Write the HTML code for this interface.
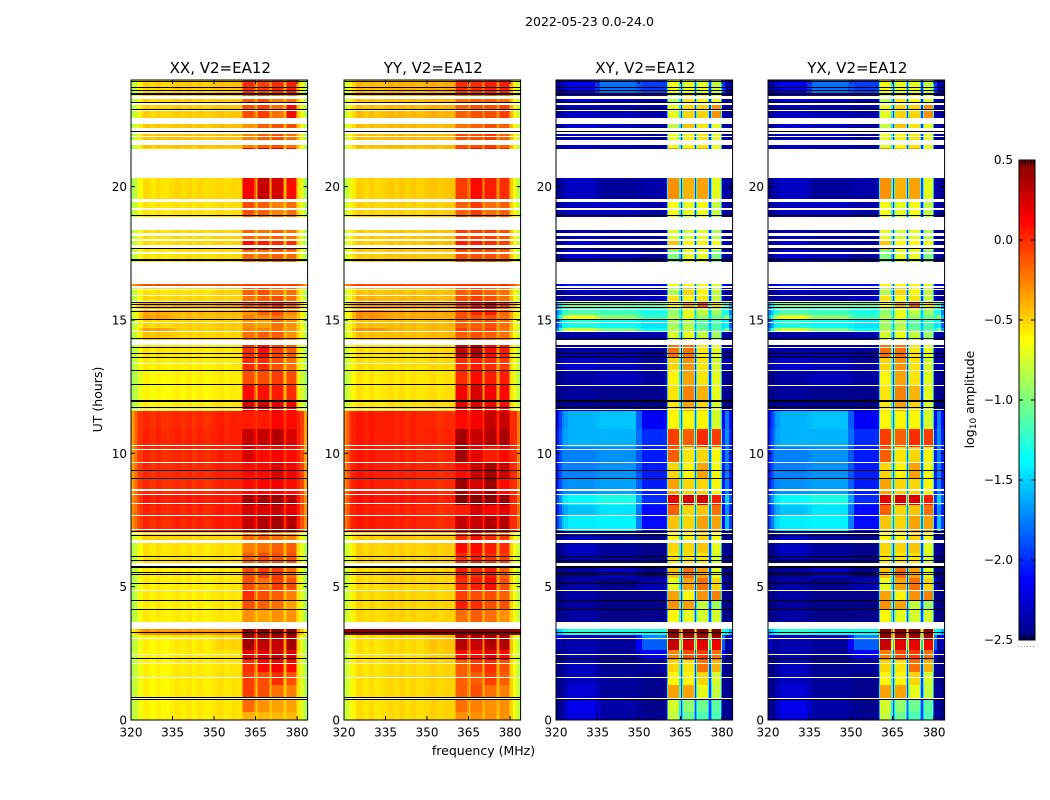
<!DOCTYPE html>
<html>
<head>
<meta charset="utf-8">
<title>2022-05-23 amplitude waterfall</title>
<style>
html,body{margin:0;padding:0;background:#fff;}
svg{display:block;}
text{font-family:"DejaVu Sans","Liberation Sans",sans-serif;fill:#000;}
</style>
</head>
<body>
<svg id="chart" xmlns="http://www.w3.org/2000/svg" width="1050" height="800" viewBox="0 0 1050 800">
<rect x="0" y="0" width="1050" height="800" fill="#fff"/>
<text x="589.5" y="26" font-size="12.5" text-anchor="middle">2022-05-23 0.0-24.0</text>
<text x="483.5" y="755" font-size="12.5" text-anchor="middle">frequency (MHz)</text>
<text x="102" y="399.5" font-size="12.5" text-anchor="middle" transform="rotate(-90 102 399.5)">UT (hours)</text>
<text x="974" y="399.5" font-size="12.5" text-anchor="middle" transform="rotate(-90 974 399.5)">log<tspan font-size="9" dy="2">10</tspan><tspan dy="-2"> amplitude</tspan></text>
<g id="panels"></g>
<g id="colorbar"></g>
</svg>
<script>
/* ---- axes ---- */
const panelTitles = ["XX, V2=EA12", "YY, V2=EA12", "XY, V2=EA12", "YX, V2=EA12"];
const freqTicks = [320, 335, 350, 365, 380];
const utTicks = [0, 5, 10, 15, 20];
const colorbarTicks = [0.5, 0.0, -0.5, -1.0, -1.5, -2.0, -2.5];

/* ---- frequency channels (MHz); each shows the mean of two per-row values ---- */
const channelEdgesMHz = [320,321,322,323,324.5,327,329,331,334,336,338,340,342,344,346,349,351,353.5,356,358.5,360,360.4,364.6,365,365.6,366,369.7,370.1,370.7,371.1,374.9,375.3,375.9,376.3,379.6,380,381,382.5,383.8];
const channelA = [0,0,1,1,2,2,2,2,2,3,3,3,3,3,3,3,4,4,4,4,4,6,6,5,5,7,7,5,5,8,8,5,5,9,9,4,1,0];
const channelB = [0,1,1,2,2,2,2,2,3,3,3,3,3,3,3,4,4,4,4,4,6,6,5,5,7,7,5,5,8,8,5,5,9,9,4,4,1,0];
const parallelRipple = [0,0,0,0,.02,-.02,.02,-.015,0,.015,-.015,.02,-.02,.015,-.015,0,.015,-.015,.01,0,0,0,0,0,0,0,0,0,0,0,0,0,0,0,0,0,0,0];

/* ---- time rows (UT hours, start of each row) ---- */
const rowStartUT = [0,.3,.75,1.31,1.8,2.25,2.63,3.0,3.19,
3.68,4.13,4.5,4.88,5.33,5.7,6.26,6.68,
7.05,7.69,8.06,8.44,9.08,9.68,10.24,10.91,
11.59,11.93,12.56,13.09,13.58,
14.06,14.55,14.7,15.0,15.19,15.45,15.68,15.9,16.2,
17.16,17.63,18.0,
18.9,19.54,
21.45,22.0,22.58,23.06,23.44];

/* ---- log10 amplitude per row: edge, shoulder, low1, low2, low3, gap, sub1, sub2, sub3, sub4 ---- */
const seriesXX = [
[-.85,-.72,-.6,-.57,-.55,-.5,-.4,-.42,-.42,-.42],
[-.85,-.72,-.6,-.57,-.55,-.48,-.18,-.3,-.35,-.35],
[-.85,-.72,-.6,-.57,-.55,-.45,-.05,-.1,-.2,-.25],
[-.85,-.72,-.6,-.57,-.55,-.45,-.05,-.1,0,-.1],
[-.85,-.72,-.6,-.57,-.55,-.42,0,.1,.15,.1],
[-.85,-.72,-.6,-.57,-.55,-.4,.2,.2,.3,.25],
[-.85,-.72,-.6,-.57,-.5,-.35,.4,.32,.3,.4],
[-.85,-.72,-.6,-.57,-.52,-.35,.46,.4,.4,.42],
[-.6,-.45,-.3,-.3,-.3,-.2,.5,.5,.5,.5],
[-.88,-.72,-.58,-.58,-.56,-.48,-.3,-.35,-.3,-.3],
[-.88,-.72,-.58,-.58,-.56,-.45,-.1,-.15,-.2,-.35],
[-.88,-.72,-.58,-.58,-.56,-.42,0,-.1,-.15,-.25],
[-.88,-.72,-.58,-.58,-.56,-.42,-.1,-.2,-.05,-.1],
[-.88,-.72,-.58,-.58,-.56,-.42,-.1,-.05,-.05,-.2],
[-.85,-.7,-.55,-.55,-.54,-.42,-.15,-.1,-.1,-.1],
[-.85,-.7,-.55,-.55,-.54,-.4,-.25,-.2,-.15,-.15],
[-.8,-.68,-.5,-.5,-.5,-.4,-.2,-.15,-.2,-.25],
[-.3,-.1,0,.02,.05,0,.3,.35,.4,.35],
[-.3,-.1,.02,.02,.05,0,.25,.25,.3,.2],
[-.3,-.1,.05,.05,.06,.02,.4,.4,.42,.35],
[-.35,-.08,0,0,.03,-.02,.1,.12,.15,.1],
[-.35,-.08,0,0,.03,-.02,.1,.1,.25,.15],
[-.35,-.08,0,0,.03,-.02,.25,.1,.15,.1],
[-.35,-.05,.02,.02,.04,0,.3,.3,.35,.25],
[-.35,-.05,0,0,.03,-.02,.05,.05,.12,.1],
[-.88,-.75,-.6,-.58,-.55,-.4,.25,.25,.2,.15],
[-.88,-.75,-.62,-.6,-.58,-.42,.1,.08,.05,0],
[-.9,-.78,-.62,-.6,-.58,-.45,-.1,-.1,-.05,-.1],
[-.85,-.72,-.58,-.58,-.57,-.45,0,0,-.1,-.2],
[-.85,-.72,-.56,-.57,-.56,-.42,0,.1,-.05,-.15],
[-.85,-.7,-.45,-.5,-.5,-.42,-.2,-.15,-.15,-.3],
[-.8,-.62,-.35,-.48,-.46,-.4,-.25,-.25,-.2,-.3],
[-.85,-.7,-.52,-.5,-.48,-.42,-.3,-.35,-.2,-.3],
[-.8,-.6,-.35,-.45,-.45,-.38,-.25,-.3,-.2,-.35],
[-.78,-.6,-.38,-.42,-.42,-.36,-.3,-.15,-.1,-.25],
[-.65,-.5,-.38,-.34,-.3,-.25,-.1,-.05,.05,-.1],
[-.85,-.7,-.52,-.52,-.5,-.42,-.2,-.15,-.1,-.2],
[-.85,-.7,-.55,-.55,-.5,-.42,-.15,-.1,-.2,-.2],
[-.35,-.2,-.1,-.1,-.1,-.1,-.05,-.05,-.05,-.05],
[-.85,-.7,-.56,-.54,-.52,-.45,-.2,-.2,-.15,-.2],
[-.85,-.7,-.54,-.52,-.5,-.42,.08,.05,0,0],
[-.85,-.7,-.54,-.52,-.5,-.45,-.15,-.2,-.15,-.2],
[-.85,-.7,-.56,-.55,-.53,-.45,-.1,-.15,-.25,-.2],
[-.9,-.72,-.54,-.52,-.52,-.42,.15,.3,.25,.1],
[-.85,-.68,-.46,-.45,-.44,-.4,-.25,-.15,-.1,-.2],
[-.85,-.68,-.48,-.46,-.44,-.4,-.3,-.15,-.1,-.1],
[-.85,-.68,-.5,-.48,-.46,-.4,-.1,-.05,-.2,.1],
[-.85,-.68,-.5,-.48,-.46,-.4,-.15,-.1,-.25,-.2],
[-.85,-.68,-.5,-.48,-.44,-.38,0,-.05,0,.05]
];
const seriesYY = [
[-.82,-.66,-.54,-.52,-.5,-.45,-.3,-.3,-.3,-.3],
[-.82,-.66,-.54,-.52,-.5,-.42,-.2,-.25,-.3,-.3],
[-.82,-.66,-.54,-.52,-.5,-.42,-.15,-.1,-.2,-.25],
[-.82,-.66,-.54,-.52,-.5,-.42,-.15,-.15,-.05,-.15],
[-.82,-.66,-.54,-.52,-.5,-.4,-.15,-.05,0,-.1],
[-.82,-.66,-.54,-.52,-.48,-.35,.1,.1,.2,.1],
[-.82,-.66,-.54,-.52,-.46,-.3,.35,.3,.35,.35],
[-.82,-.66,-.54,-.52,-.46,-.3,.4,.4,.42,.4],
[.42,.48,.5,.5,.5,.5,.5,.5,.5,.5],
[-.82,-.66,-.52,-.5,-.5,-.42,-.2,-.15,-.2,-.3],
[-.82,-.66,-.52,-.5,-.5,-.4,.05,0,-.1,-.1],
[-.82,-.66,-.52,-.5,-.5,-.38,-.05,-.1,-.1,-.15],
[-.82,-.66,-.52,-.5,-.5,-.38,0,.05,.1,-.1],
[-.82,-.66,-.52,-.5,-.5,-.38,.05,0,.05,-.15],
[-.8,-.66,-.5,-.5,-.48,-.38,0,.05,0,-.05],
[-.8,-.66,-.5,-.5,-.48,-.38,.1,.1,.05,0],
[-.78,-.62,-.48,-.46,-.46,-.36,0,.1,0,-.05],
[-.22,0,.05,.03,0,.02,.3,.3,.35,.35],
[-.22,0,.05,.03,0,.02,.05,.25,.15,.2],
[-.22,.02,.08,.06,.04,.04,.5,.48,.48,.45],
[-.25,0,.05,.03,0,0,.42,.25,.42,.1],
[-.25,0,.05,.02,0,0,.1,.3,.4,.3],
[-.25,0,.05,.02,0,0,.42,.2,.05,.1],
[-.25,0,.05,.03,.02,.02,.4,.3,.35,.38],
[-.25,0,.05,.03,0,0,.1,.15,.3,.3],
[-.82,-.68,-.56,-.54,-.52,-.38,.2,.2,.15,.1],
[-.82,-.68,-.56,-.55,-.54,-.38,.15,.25,.15,.1],
[-.85,-.7,-.56,-.55,-.54,-.38,0,.1,.05,.05],
[-.82,-.66,-.54,-.54,-.52,-.38,0,.05,0,-.05],
[-.82,-.66,-.54,-.54,-.52,-.36,.3,.35,.1,.05],
[-.8,-.62,-.44,-.44,-.42,-.36,-.15,-.1,-.15,-.2],
[-.78,-.56,-.3,-.42,-.42,-.34,-.05,-.1,-.05,-.2],
[-.8,-.62,-.44,-.44,-.42,-.34,-.15,-.15,-.1,-.2],
[-.75,-.55,-.3,-.38,-.38,-.32,-.1,-.1,-.1,-.2],
[-.72,-.55,-.3,-.36,-.36,-.3,-.1,0,.05,-.15],
[-.6,-.42,-.3,-.3,-.3,-.2,0,.15,.25,0],
[-.8,-.62,-.4,-.42,-.42,-.32,-.1,-.05,-.1,-.2],
[-.8,-.62,-.45,-.45,-.44,-.34,-.15,-.1,-.15,-.2],
[-.3,-.15,-.08,-.08,-.08,-.08,-.02,-.02,-.02,-.02],
[-.8,-.62,-.48,-.46,-.46,-.34,-.1,-.1,-.1,-.15],
[-.8,-.62,-.48,-.46,-.44,-.3,.05,.05,0,-.05],
[-.8,-.62,-.48,-.46,-.44,-.34,-.05,-.05,-.05,-.1],
[-.8,-.62,-.5,-.5,-.48,-.34,-.15,-.05,-.2,-.15],
[-.85,-.66,-.5,-.48,-.46,-.3,-.05,.1,.05,0],
[-.8,-.6,-.44,-.42,-.42,-.3,-.1,-.1,-.05,-.15],
[-.8,-.6,-.44,-.42,-.42,-.3,-.2,-.15,-.1,-.15],
[-.8,-.6,-.44,-.42,-.4,-.3,-.15,-.1,-.1,-.05],
[-.8,-.6,-.44,-.42,-.4,-.3,-.2,-.15,-.15,-.2],
[-.78,-.6,-.42,-.4,-.38,-.28,0,0,.05,.05]
];
const seriesXY = [
[-2.48,-2.42,-2.2,-2.4,-2.45,-1.95,-.8,-1.05,-1.15,-1.15],
[-2.48,-2.42,-2.18,-2.38,-2.46,-1.95,-.75,-.95,-1.05,-1.1],
[-2.48,-2.42,-2.25,-2.42,-2.46,-2.0,-.35,-.35,-.7,-.8],
[-2.48,-2.45,-2.32,-2.42,-2.46,-2.0,-.6,-.6,-.5,-.75],
[-2.48,-2.45,-2.32,-2.45,-2.42,-2.0,-.5,-.55,-.2,-.4],
[-2.48,-2.45,-2.36,-2.44,-2.15,-1.9,-.25,-.1,-.05,-.2],
[-2.3,-2.45,-2.36,-2.42,-1.85,-1.5,.3,.2,.2,.15],
[-2.1,-2.4,-2.35,-2.38,-1.75,-1.2,.45,.4,.4,.4],
[-1.6,-1.4,-1.25,-1.3,-1.3,-.9,.5,.5,.5,.5],
[-2.48,-2.47,-2.4,-2.47,-2.46,-2.0,-.6,-.7,-.75,-.75],
[-2.48,-2.47,-2.4,-2.47,-2.47,-2.0,-.3,-.35,-.8,-.9],
[-2.48,-2.47,-2.38,-2.47,-2.47,-2.0,-.35,-.6,-.3,-.25],
[-2.48,-2.47,-2.4,-2.47,-2.35,-2.0,-.7,-.35,-.2,-.5],
[-2.48,-2.47,-2.4,-2.3,-2.47,-2.0,-.45,-.2,-.35,-.7],
[-2.48,-2.45,-2.35,-2.42,-2.47,-2.0,-.55,-.55,-.55,-.75],
[-2.48,-2.42,-2.3,-2.42,-2.47,-2.0,-.5,-.5,-.45,-.7],
[-2.48,-2.42,-2.3,-2.4,-2.47,-2.0,-.6,-.6,-.5,-.65],
[-1.95,-1.55,-1.42,-1.4,-2.1,-1.75,-.45,-.5,-.35,-.35],
[-2.05,-1.7,-1.55,-1.45,-2.1,-1.75,-.15,-.5,-.45,-.2],
[-1.9,-1.5,-1.38,-1.3,-2.0,-1.65,.2,.25,.25,.05],
[-2.05,-1.75,-1.7,-1.65,-2.05,-1.75,-.35,-.5,-.5,-.6],
[-2.05,-1.75,-1.75,-1.7,-2.05,-1.85,-.5,-.6,-.35,-.65],
[-2.05,-1.75,-1.75,-1.7,-2.05,-1.85,-.15,-.55,-.5,-.6],
[-2.05,-1.7,-1.6,-1.6,-2.0,-1.75,-.05,-.15,0,-.05],
[-2.1,-1.75,-1.6,-1.55,-2.15,-1.85,-.6,-.6,-.6,-.75],
[-2.48,-2.45,-2.42,-2.45,-2.46,-2.05,-.55,-.35,-.5,-.75],
[-2.48,-2.45,-2.42,-2.45,-2.46,-2.05,-.55,-.25,-.4,-.7],
[-2.48,-2.45,-2.38,-2.33,-2.4,-2.05,-.6,-.35,-.55,-.7],
[-2.4,-2.35,-2.28,-2.33,-2.42,-2.05,-.5,-.3,-.55,-.75],
[-2.45,-2.4,-2.38,-2.38,-2.42,-2.05,-.2,-.2,-.55,-.7],
[-2.45,-2.4,-2.38,-2.38,-2.38,-2.05,-.75,-.7,-.8,-.9],
[-1.65,-.95,-.75,-1.0,-1.35,-1.5,-.85,-.8,-1.05,-1.1],
[-1.85,-1.4,-1.3,-1.35,-1.45,-1.6,-.9,-.85,-1.1,-1.15],
[-1.55,-.9,-.68,-.95,-1.2,-1.45,-.85,-.7,-.95,-1.05],
[-1.75,-1.3,-1.15,-1.2,-1.3,-1.55,-.95,-.7,-.8,-.9],
[-1.65,-1.2,-1.05,-1.1,-1.1,-1.4,-.6,-.35,-.1,-.5],
[-2.45,-2.42,-2.38,-2.38,-2.3,-2.0,-.55,-.6,-.55,-.8],
[-2.45,-2.42,-2.33,-2.38,-2.38,-2.0,-.85,-.5,-.6,-.8],
[-2.3,-2.15,-2.05,-2.1,-2.1,-1.9,-.6,-.6,-.6,-.7],
[-2.45,-2.38,-2.25,-2.32,-2.42,-2.05,-1.0,-.7,-.7,-1.0],
[-2.45,-2.38,-2.25,-2.35,-2.38,-2.05,-.45,-.6,-.6,-.65],
[-2.45,-2.42,-2.35,-2.38,-2.42,-2.05,-.7,-.75,-.7,-.85],
[-2.45,-2.38,-2.3,-2.3,-2.38,-2.05,-.65,-.7,-.65,-.8],
[-2.47,-2.38,-2.3,-2.42,-2.38,-1.95,-.3,-.4,-.35,-.7],
[-2.45,-2.38,-2.3,-2.33,-2.42,-2.0,-.7,-.6,-.55,-.7],
[-2.45,-2.38,-2.25,-2.33,-2.42,-2.0,-.8,-.45,-.55,-.7],
[-2.45,-2.38,-2.3,-2.33,-2.38,-2.0,-.7,-.5,-.5,-.3],
[-2.45,-2.33,-2.2,-2.28,-2.38,-2.0,-.85,-.55,-.6,-.7],
[-2.42,-2.3,-2.15,-1.8,-1.95,-2.0,-.65,-.7,-.7,-.8]
];
const seriesYX = seriesXY;

/* ---- flagged (blank) UT intervals and saturated black lines ---- */
const flaggedUT = [[.79,.82],[1.6,1.63],[2.09,2.12],[2.43,2.46],[3.03,3.06],[3.42,3.675],[4.85,4.88],[5.75,5.9],[6.65,6.75],[6.97,7.0],[7.14,7.17],[7.64,7.67],[8.11,8.14],[8.43,8.46],[8.6,8.65],[9.66,9.69],[10.14,10.17],[10.29,10.32],[11.63,11.66],[13.34,13.37],[13.95,13.98],[14.06,14.26],[14.54,14.57],[14.88,14.91],[15.38,15.42],[15.69,15.72],[15.89,15.92],[16.13,16.16],[16.2,16.29],[16.36,17.16],[17.49,17.56],[17.67,17.8],[17.95,18.04],[18.16,18.26],[18.38,18.88],[19.13,19.2],[19.43,19.53],[20.33,21.42],[21.56,21.74],[21.85,21.9],[21.99,22.04],[22.09,22.2],[22.35,22.58],[22.82,22.86],[23.08,23.12],[23.29,23.41]];
const crossFlaggedUT = [[13.08,13.11],[12.53,12.56]];
const blackLinesParallelUT = [.74,.84,2.29,3.25,4.11,4.45,5.09,5.43,5.5,5.97,6.12,6.9,7.05,9.03,9.33,11.69,12.55,13.1,13.56,13.71,13.96,14.29,14.99,15.29,15.44,15.56,15.65,17.66,18.9,22.05,22.86,23.15,23.59,23.7,23.91];
const blackLinesCrossUT = [.74,2.29,3.25,4.11,4.45,5.09,5.43,5.5,5.97,6.12,6.9,7.05,9.03,9.33,11.69,13.56,13.71,14.29,14.99,15.44,15.56,15.65,17.66,18.9,22.05,22.86,23.15,23.59,23.7,23.91];
const thickLinesUT = [5.71,11.93,17.2,23.45];

/* ---- geometry ---- */
const SVGNS = "http://www.w3.org/2000/svg";
const panelLeft = [131, 344, 556, 768];
const panelWidth = 176.6, panelTop = 80, panelBottom = 720;
const freqMin = 320, freqMax = 383.8, utMin = 0, utMax = 24;
const cbLeft = 1019, cbRight = 1035, cbTop = 160, cbBottom = 640, vMin = -2.5, vMax = 0.5;

function xScale(left, f) { return left + (f - freqMin) / (freqMax - freqMin) * panelWidth; }
function yScale(h) { return panelBottom - (h - utMin) / (utMax - utMin) * (panelBottom - panelTop); }
function cbScale(v) { return cbBottom - (v - vMin) / (vMax - vMin) * (cbBottom - cbTop); }
function clamp01(a) { return Math.max(0, Math.min(1, a)); }
function jet(v) {
  const t = clamp01((v - vMin) / (vMax - vMin));
  const r = clamp01(1.5 - Math.abs(4 * t - 3));
  const g = clamp01(1.5 - Math.abs(4 * t - 2));
  const b = clamp01(1.5 - Math.abs(4 * t - 1));
  return "rgb(" + Math.round(r * 255) + "," + Math.round(g * 255) + "," + Math.round(b * 255) + ")";
}
function make(tag, attrs, parent) {
  const el = document.createElementNS(SVGNS, tag);
  for (const k in attrs) el.setAttribute(k, attrs[k]);
  parent.appendChild(el);
  return el;
}
function band(parent, left, h0, h1, minPx, fill) {
  const yTop = Math.round(yScale(h1));
  let yBot = Math.round(yScale(h0));
  if (yBot - yTop < minPx) yBot = yTop + minPx;
  return make("rect", {x: Math.round(left), y: yTop, width: Math.round(panelWidth), height: yBot - yTop, fill: fill, "shape-rendering": "crispEdges"}, parent);
}

const panelsRoot = document.getElementById("panels");
const panelSeries = [seriesXX, seriesYY, seriesXY, seriesYX];
const panelKeys = ["xx", "yy", "xy", "yx"];

panelLeft.forEach(function (left, p) {
  const g = make("g", {}, panelsRoot);
  
  

  const series = panelSeries[p];
  const parallel = p < 2;
  const heat = make("g", {}, g);
  
  

  rowStartUT.forEach(function (start, r) {
    const end = r + 1 < rowStartUT.length ? rowStartUT[r + 1] : utMax;
    const yTop = Math.round(yScale(end));
    const yBot = Math.round(yScale(start));
    const row = series[r];
    channelA.forEach(function (grp, c) {
      const x0 = Math.round(xScale(left, channelEdgesMHz[c]));
      const x1 = Math.round(xScale(left, channelEdgesMHz[c + 1]));
      const value = (row[grp] + row[channelB[c]]) / 2 + (parallel ? parallelRipple[c] : 0);
      const cell = make("rect", {x: x0, y: yTop, width: x1 - x0, height: yBot - yTop, fill: jet(value), "shape-rendering": "crispEdges"}, heat);
      
      
    });
  });

  const flagged = parallel ? flaggedUT : flaggedUT.concat(crossFlaggedUT);
  flagged.forEach(function (iv) {
    const blank = band(g, left, iv[0], iv[1], 1, "#fff");
    
    
  });
  (parallel ? blackLinesParallelUT : blackLinesCrossUT).forEach(function (h) {
    const line = band(g, left, h, h + .0375, 1, "#000");
    
    
  });
  thickLinesUT.forEach(function (h) {
    const line = band(g, left, h, h + .075, 2, "#000");
    
    
  });

  const frame = make("rect", {x: left, y: panelTop, width: panelWidth, height: panelBottom - panelTop, fill: "none", stroke: "#000", "stroke-width": 1}, g);
  
  

  freqTicks.forEach(function (f) {
    const x = xScale(left, f);
    const tb = make("line", {x1: x, x2: x, y1: panelBottom, y2: panelBottom - 4, stroke: "#000", "stroke-width": 1}, g);
    
    
    const tt = make("line", {x1: x, x2: x, y1: panelTop, y2: panelTop + 4, stroke: "#000", "stroke-width": 1}, g);
    
    
    const lab = make("text", {x: x, y: 736.5, "font-size": 12, "text-anchor": "middle"}, g);
    lab.textContent = f;
    
    
  });

  utTicks.forEach(function (h) {
    const y = yScale(h);
    const tl = make("line", {x1: left, x2: left + 4, y1: y, y2: y, stroke: "#000", "stroke-width": 1}, g);
    
    
    const tr = make("line", {x1: left + panelWidth, x2: left + panelWidth - 4, y1: y, y2: y, stroke: "#000", "stroke-width": 1}, g);
    
    
    const lab = make("text", {x: left - 4, y: y + 4.5, "font-size": 12, "text-anchor": "end"}, g);
    lab.textContent = h;
    
    
  });

  const title = make("text", {x: left + panelWidth / 2 + 1, y: 73, "font-size": 15, "text-anchor": "middle"}, g);
  title.textContent = panelTitles[p];
  
  
});

/* ---- colorbar ---- */
const cbRoot = document.getElementById("colorbar");
for (let y = cbTop; y < cbBottom; y++) {
  const v = vMax - (y + 0.5 - cbTop) / (cbBottom - cbTop) * (vMax - vMin);
  const seg = make("rect", {x: cbLeft, y: y, width: cbRight - cbLeft, height: 1, fill: jet(v), "shape-rendering": "crispEdges"}, cbRoot);
  
  
}
const cbFrame = make("rect", {x: cbLeft, y: cbTop, width: cbRight - cbLeft, height: cbBottom - cbTop, fill: "none", stroke: "#000", "stroke-width": 1}, cbRoot);


colorbarTicks.forEach(function (v) {
  const y = cbScale(v);
  const t1 = make("line", {x1: cbLeft, x2: cbLeft + 4, y1: y, y2: y, stroke: "#000", "stroke-width": 1}, cbRoot);
  
  
  const t2 = make("line", {x1: cbRight, x2: cbRight - 4, y1: y, y2: y, stroke: "#000", "stroke-width": 1}, cbRoot);
  
  
  const lab = make("text", {x: 1013, y: y + 4, "font-size": 12, "text-anchor": "end"}, cbRoot);
  lab.textContent = (v < 0 ? "\u2212" : "") + Math.abs(v).toFixed(1);
  
  
});
for (let i = 0; i < 5; i++) {
  const x = cbLeft + 3 + i * 3;
  const topTick = make("line", {x1: x, x2: x, y1: cbTop, y2: cbTop + 5, stroke: "#000", "stroke-width": 1}, cbRoot);
  
  
  const botTick = make("line", {x1: x, x2: x, y1: cbBottom, y2: cbBottom - 5, stroke: "#000", "stroke-width": 1}, cbRoot);
  
  
}
const cbDots = make("line", {x1: 1018, x2: 1035, y1: 646.5, y2: 646.5, stroke: "#888", "stroke-width": 1, "stroke-dasharray": "1 2"}, cbRoot);


</script>
</body>
</html>
